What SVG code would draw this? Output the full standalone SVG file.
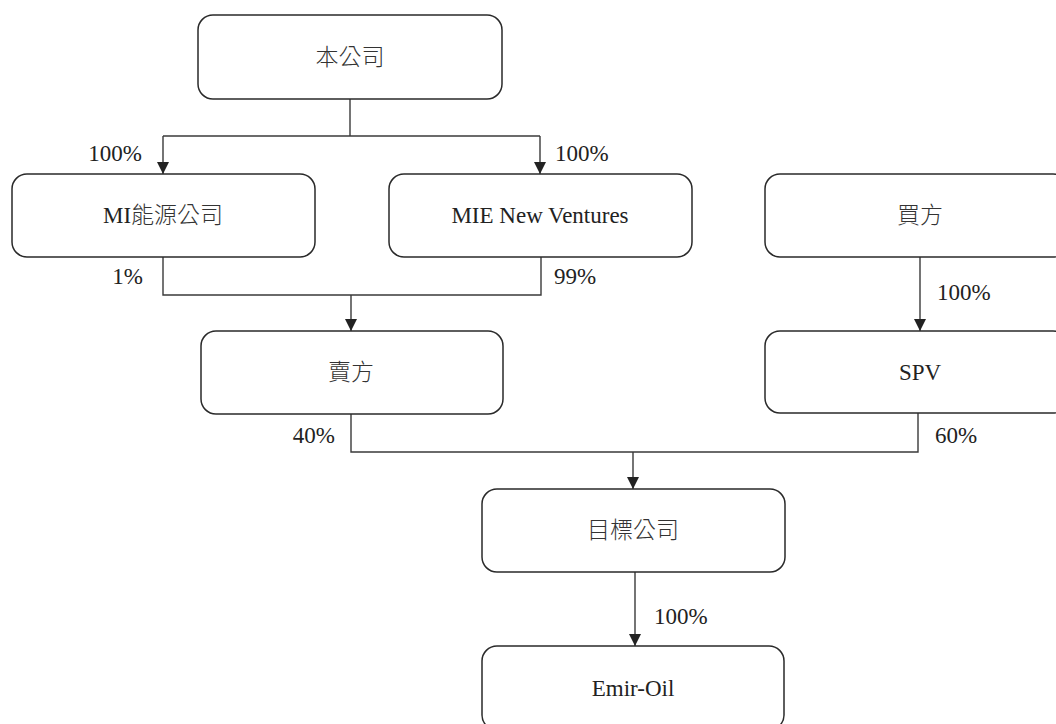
<svg xmlns="http://www.w3.org/2000/svg" width="1056" height="724" viewBox="0 0 1056 724">
<style>
.box{fill:#fff;stroke:#2a2a2a;stroke-width:1.5}
.ln{fill:none;stroke:#3a3a3a;stroke-width:1.4}
.t{font-family:"Liberation Serif","Noto Serif CJK TC","Noto Sans CJK TC",serif;font-size:23px;fill:#222}
.c{font-family:"Noto Sans CJK TC","Noto Sans CJK SC",sans-serif;font-size:23px;fill:#333;font-weight:300}
.m{text-anchor:middle}
.e{text-anchor:end}
</style>
<defs>
<marker id="ah" viewBox="0 0 12 12" refX="12" refY="6" markerWidth="12" markerHeight="12" markerUnits="userSpaceOnUse" orient="auto">
<path d="M0,0 L12,6 L0,12 Z" fill="#222"/>
</marker>
</defs>
<rect width="1056" height="724" fill="#fff"/>
<g id="connectors">
<path class="ln" d="M350,99 V136"/>
<path class="ln" d="M163,136 H540"/>
<path class="ln" d="M163,136 V174" marker-end="url(#ah)"/>
<path class="ln" d="M540,136 V174" marker-end="url(#ah)"/>
<path class="ln" d="M163,257 V295 H541 V257"/>
<path class="ln" d="M351,295 V331" marker-end="url(#ah)"/>
<path class="ln" d="M920,257 V331" marker-end="url(#ah)"/>
<path class="ln" d="M351,414 V452 H918 V413"/>
<path class="ln" d="M633,452 V489" marker-end="url(#ah)"/>
<path class="ln" d="M635,572 V646" marker-end="url(#ah)"/>
<text class="t e" x="142" y="161">100%</text>
<text class="t" x="555" y="161">100%</text>
<text class="t e" x="143" y="284">1%</text>
<text class="t" x="554" y="284">99%</text>
<text class="t" x="937" y="300">100%</text>
<text class="t e" x="335" y="443">40%</text>
<text class="t" x="935" y="443">60%</text>
<text class="t" x="654" y="624">100%</text>
</g>
<g id="company">
<rect class="box" x="198" y="15" width="304" height="84" rx="15"/>
<text class="c m" x="350" y="65">本公司</text>
</g>
<g id="mi-energy">
<rect class="box" x="12" y="174" width="303" height="83" rx="15"/>
<text class="t m" x="163" y="223">MI<tspan class="c">能源公司</tspan></text>
</g>
<g id="mie-new-ventures">
<rect class="box" x="389" y="174" width="303" height="83" rx="15"/>
<text class="t m" x="540" y="223">MIE New Ventures</text>
</g>
<g id="buyer">
<rect class="box" x="765" y="174" width="303" height="83" rx="15"/>
<text class="c m" x="920" y="223">買方</text>
</g>
<g id="seller">
<rect class="box" x="201" y="331" width="302" height="83" rx="15"/>
<text class="c m" x="351" y="380">賣方</text>
</g>
<g id="spv">
<rect class="box" x="765" y="331" width="303" height="82" rx="15"/>
<text class="t m" x="920" y="380">SPV</text>
</g>
<g id="target">
<rect class="box" x="482" y="489" width="303" height="83" rx="15"/>
<text class="c m" x="633" y="538">目標公司</text>
</g>
<g id="emir-oil">
<rect class="box" x="482" y="646" width="302" height="84" rx="15"/>
<text class="t m" x="633" y="696">Emir-Oil</text>
</g>
</svg>
